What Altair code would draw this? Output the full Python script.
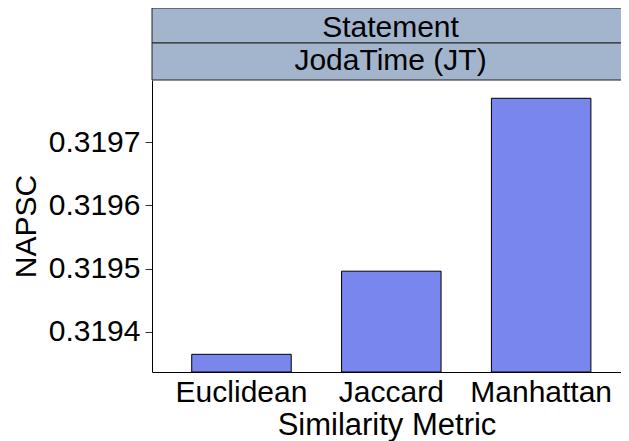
import altair as alt
import pandas as pd

metrics = ["Euclidean", "Jaccard", "Manhattan"]
napsc = [0.3193642, 0.3194959, 0.3197697]
y_ticks = [0.3194, 0.3195, 0.3196, 0.3197]
y_domain = [0.3193362, 0.3197987]
strip_labels = ["Statement", "JodaTime (JT)"]

FONT = "Liberation Sans"
FS = 30
FT = 31
W, H = 469, 292

df = pd.DataFrame({"metric": metrics, "napsc": napsc})
strip1 = pd.DataFrame({"label": [strip_labels[0]]})
strip2 = pd.DataFrame({"label": [strip_labels[1]]})

bars = alt.Chart(df).mark_bar(
    color="#7886EE", stroke="black", strokeWidth=1
).encode(
    x=alt.X(
        "metric:N",
        sort=metrics,
        scale=alt.Scale(paddingInner=0.336, paddingOuter=0.233, align=0.569),
        axis=alt.Axis(
            title="Similarity Metric", labelAngle=0, ticks=False,
            labelFont=FONT, labelFontSize=FS, labelColor="black", labelPadding=5,
            titleFont=FONT, titleFontSize=FT, titleFontWeight="normal",
            titleColor="black", titlePadding=3,
            domainColor="black", domainWidth=1,
        ),
    ),
    y=alt.Y(
        "napsc:Q",
        scale=alt.Scale(domain=y_domain, zero=False, nice=False),
        axis=alt.Axis(
            title="NAPSC", values=y_ticks, format=".4f", grid=False,
            labelFont=FONT, labelFontSize=FS, labelColor="black", labelPadding=5,
            tickSize=7, tickColor="#333333", tickWidth=1,
            titleFont=FONT, titleFontSize=30, titleFontWeight="normal",
            titleColor="black", titlePadding=7,
            domainColor="black", domainWidth=1,
        ),
    ),
    y2=alt.datum(y_domain[0]),
)

rect1 = alt.Chart(strip1).mark_rect(fill="#A2B5CD", stroke="#222222", strokeWidth=1).encode(
    x=alt.value(0), x2=alt.value(W + 4), y=alt.value(-72), y2=alt.value(-37)
)
rect2 = alt.Chart(strip2).mark_rect(fill="#A2B5CD", stroke="#222222", strokeWidth=1).encode(
    x=alt.value(0), x2=alt.value(W + 4), y=alt.value(-37), y2=alt.value(0)
)
text1 = alt.Chart(strip1).mark_text(
    font=FONT, fontSize=FS, color="black", align="center", baseline="middle"
).encode(x=alt.value(W / 2 + 4), y=alt.value(-52.5), text="label:N")
text2 = alt.Chart(strip2).mark_text(
    font=FONT, fontSize=FS, color="black", align="center", baseline="middle"
).encode(x=alt.value(W / 2 + 4), y=alt.value(-19), text="label:N")

chart = alt.layer(bars, rect1, rect2, text1, text2).properties(
    width=W, height=H,
    autosize=alt.AutoSizeParams(type="none"),
    padding={"left": 144, "top": 72, "right": 0, "bottom": 69},
).configure_view(stroke="transparent")

chart.save("out.html", embed_options={"renderer": "svg", "actions": False})
